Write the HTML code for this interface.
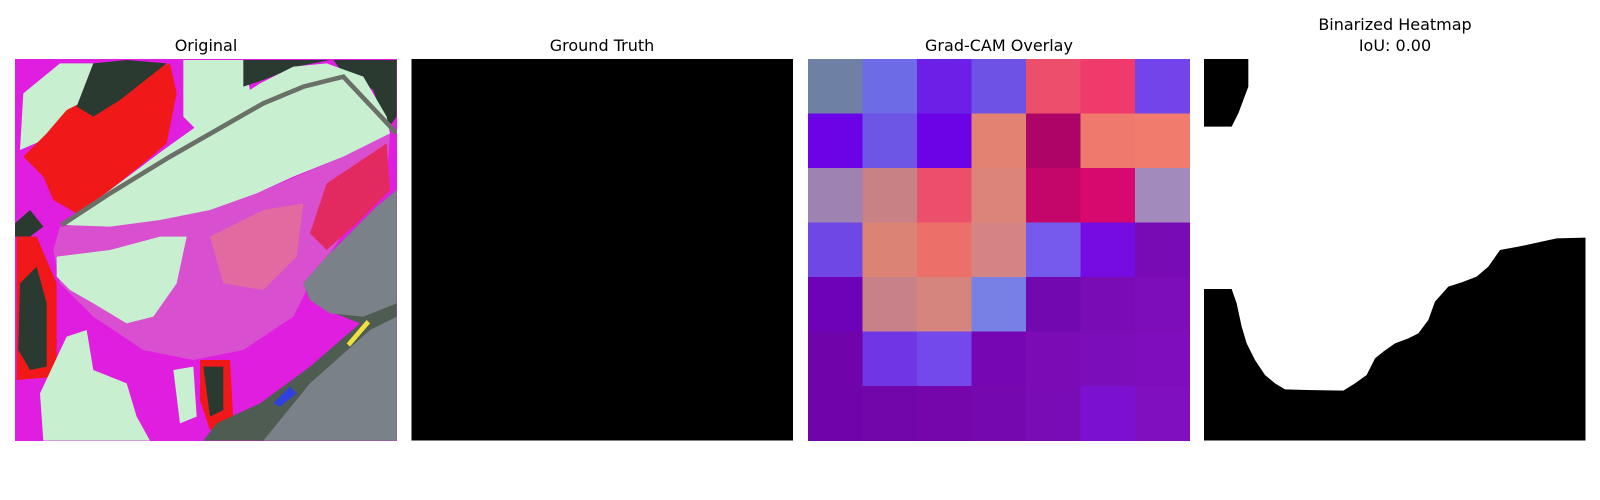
<!DOCTYPE html>
<html><head><meta charset="utf-8">
<style>
html,body{margin:0;padding:0;background:#fff;width:1600px;height:500px;overflow:hidden;}
svg{display:block;}
text{font-family:"DejaVu Sans","Liberation Sans",sans-serif;font-size:16px;fill:#000;}
</style></head>
<body>
<svg id="fig" width="1600" height="500" viewBox="0 0 1600 500">
<defs>
<clipPath id="clipOrig"><rect x="15" y="59" width="382" height="382"/></clipPath>
</defs>
<text x="206" y="51" text-anchor="middle">Original</text>
<text x="602" y="51" text-anchor="middle">Ground Truth</text>
<text x="999" y="51" text-anchor="middle">Grad-CAM Overlay</text>
<text x="1395" y="30" text-anchor="middle">Binarized Heatmap</text>
<text x="1395" y="51" text-anchor="middle">IoU: 0.00</text>

<g clip-path="url(#clipOrig)">
<g transform="translate(10,50) scale(0.33333)">
<rect x="15" y="27" width="1146" height="1146" fill="#e01ee0"/>
<polygon fill="#c8f0d0" points="40,130 150,40 250,40 200,170 100,270 30,300"/>
<polygon fill="#c8f0d0" points="520,30 700,30 720,120 640,180 560,240 520,200"/>
<polygon fill="#f01818" points="170,180 250,140 370,80 480,40 500,130 470,280 400,340 300,420 200,490 130,450 100,380 40,320 110,250"/>
<polygon fill="#2a3a30" points="250,40 350,30 470,40 330,150 250,200 200,170"/>
<polygon fill="#2a3a30" points="15,520 60,480 100,530 60,560 15,560"/>
<polygon fill="#f01818" points="20,560 80,560 140,700 140,980 20,990"/>
<polygon fill="#2a3a30" points="30,700 80,650 110,760 110,950 60,960 25,900"/>
<polygon fill="#2a3a30" points="700,30 960,30 860,50 760,90 700,110"/>
<polygon fill="#2a3a30" points="970,30 1160,30 1160,200 1130,240 1090,120 1000,70"/>
<polygon fill="#d850d0" points="150,530 400,500 740,430 1000,320 1140,250 1130,400 1000,550 900,700 850,800 700,900 550,930 400,900 250,800 150,700 130,600"/>
<polygon fill="#c8f0d0" points="160,525 300,420 460,300 600,200 750,100 850,50 950,40 1060,80 1130,200 1140,250 1000,320 850,380 740,430 600,480 450,510 300,530"/>
<polygon fill="#c8f0d0" points="140,620 300,600 450,560 530,560 500,700 430,800 350,820 250,760 180,720 140,680"/>
<polygon fill="#e32a60" points="950,400 1130,280 1140,420 1040,520 950,600 900,550"/>
<polygon fill="#e36aa0" points="600,560 760,480 880,460 860,620 760,720 640,700"/>
<polyline fill="none" stroke="#6a7068" stroke-width="14" points="155,525 300,430 480,320 620,240 760,160 880,110 1000,80 1160,250"/>
<polygon fill="#c8f0d0" points="90,1030 170,860 230,840 250,960 350,1000 380,1100 420,1172 100,1172"/>
<polygon fill="#c8f0d0" points="490,960 550,950 560,1100 510,1120"/>
<polygon fill="#f01818" points="570,930 660,930 670,1110 600,1140 570,1050"/>
<polygon fill="#2a3a30" points="580,950 640,950 640,1080 600,1100"/>
<polygon fill="#4e5c52" points="880,700 950,620 1100,470 1160,420 1160,1172 580,1172 620,1120 750,1060 900,950 1050,820 950,780 900,750"/>
<polygon fill="#7b8188" points="880,700 950,620 1100,470 1160,420 1160,760 1060,800 960,790 900,750"/>
<polygon fill="#7b8188" points="760,1172 900,1000 1080,840 1160,800 1160,1172"/>
<polygon fill="#3040e0" points="790,1060 840,1010 860,1030 810,1070"/>
<polygon fill="#f0e040" points="1010,880 1070,810 1080,820 1020,890"/>
</g>
</g>

<rect x="411.5" y="59" width="381.5" height="381.5" fill="#000"/>

<g id="gradcam"></g>

<g>
<rect x="1204" y="59" width="381.5" height="381.5" fill="#fff"/>
<g transform="translate(1175,50) scale(0.33333)">
<path fill="#000" d="M87,27 L220,27 L220,110 L205,150 L190,190 L170,230 L87,230 Z"/>
<path fill="#000" d="M87,717 L170,717 L185,760 L200,830 L215,880 L240,930 L270,975 L300,1000 L330,1018 L395,1020 L505,1022 L540,1000 L575,975 L600,925 L625,905 L660,880 L700,865 L730,850 L760,810 L780,755 L820,710 L860,697 L905,680 L940,650 L975,600 L1030,590 L1100,575 L1145,565 L1231.5,563 L1231.5,1171.5 L87,1171.5 Z"/>
</g>
</g>
</svg>
<script>
const gridRows = 7;
const gridCols = 7;
const cellColors = [
 ["#6e81a5","#6d6ce6","#6c1fe6","#6d52e5","#ec4f6b","#f03a6b","#7244e9"],
 ["#6c03e6","#6e56e5","#6c02e6","#e18272","#ad0468","#ef796c","#f17c6d"],
 ["#9e82b2","#c88184","#ec4f6b","#dc847a","#c4066b","#d8096e","#a28abc"],
 ["#6f47e5","#db8374","#ec6f69","#d48484","#765aee","#770ce2","#790bb4"],
 ["#6d02b9","#c88189","#d6847e","#7880e5","#7209b0","#7a0cb5","#7c0db8"],
 ["#7004ab","#7036e6","#7349ec","#7506b2","#7a0bb5","#7c0eba","#7f0dbd"],
 ["#7004ab","#7106aa","#7406ab","#7608b0","#7a0cb6","#7c10d0","#7f0fbf"]
];
(function(){
  const g = document.getElementById('gradcam');
  const x0 = 808, y0 = 59, size = 381.5;
  const cw = size / gridCols, ch = size / gridRows;
  const ns = 'http://www.w3.org/2000/svg';
  for (let r = 0; r < gridRows; r++) {
    for (let c = 0; c < gridCols; c++) {
      const rect = document.createElementNS(ns, 'rect');
      rect.setAttribute('x', x0 + c * cw);
      rect.setAttribute('y', y0 + r * ch);
      rect.setAttribute('width', cw + 0.5);
      rect.setAttribute('height', ch + 0.5);
      rect.setAttribute('fill', cellColors[r][c]);
      
      
      g.appendChild(rect);
    }
  }
})();
</script>
</body></html>
